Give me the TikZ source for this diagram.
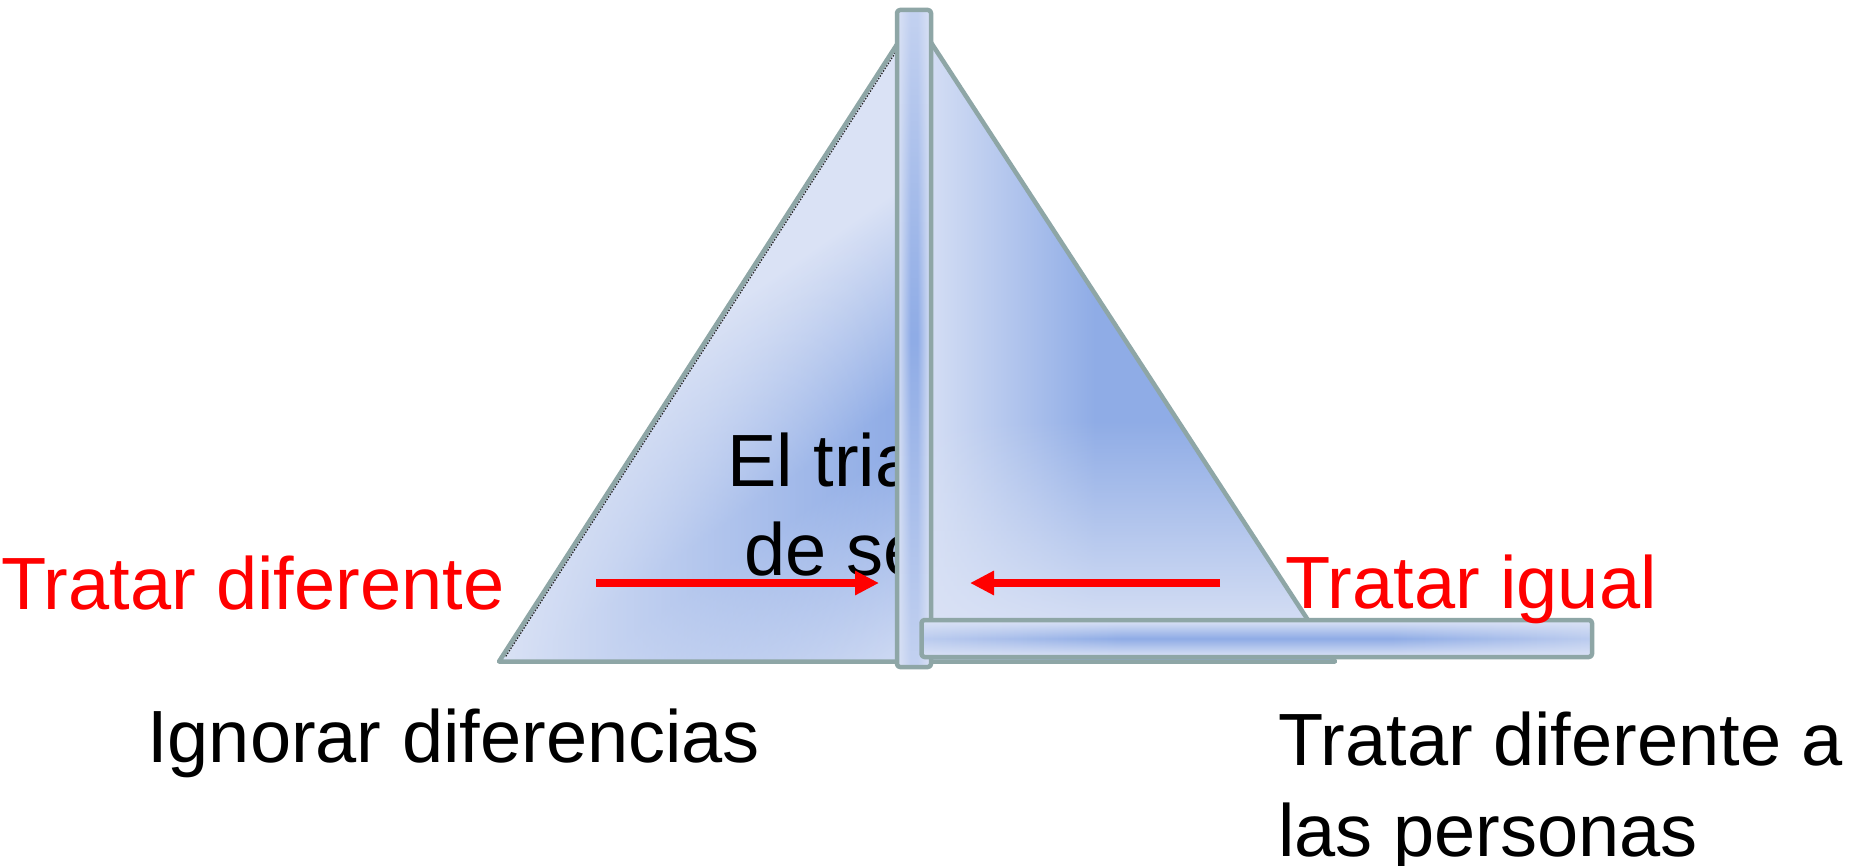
\documentclass[tikz,border=0pt]{standalone}
\usepackage{fontspec}
\setmainfont{Liberation Sans}
\usetikzlibrary{arrows.meta,fadings}
\definecolor{sailL}{RGB}{218,226,245}
\definecolor{sailD}{RGB}{143,172,230}
\definecolor{edgecol}{RGB}{142,166,166}
\definecolor{txtred}{RGB}{255,0,0}
\pgfdeclarehorizontalshading{leftsail}{100bp}{color(0bp)=(sailL); color(49bp)=(sailL); color(61.5bp)=(sailD); color(64bp)=(sailD); color(79bp)=(sailL); color(100bp)=(sailL)}
\pgfdeclarehorizontalshading{boomshade}{100bp}{color(0bp)=(sailL); color(15bp)=(sailL); color(40bp)=(sailD); color(60bp)=(sailD); color(85bp)=(sailL); color(100bp)=(sailL)}
\pgfdeclarehorizontalshading{poleshade}{100bp}{color(0bp)=(sailL); color(25bp)=(sailL); color(45bp)=(sailD); color(55bp)=(sailD); color(75bp)=(sailL); color(100bp)=(sailL)}
\tikzfading[name=fadedown, top color=transparent!100, bottom color=transparent!0]
\tikzfading[name=fadeleft, left color=transparent!0, right color=transparent!100]
\tikzfading[name=fadeends, top color=transparent!0, bottom color=transparent!0, middle color=transparent!100]
\tikzset{
  edgeline/.style={draw=edgecol, line width=4.5pt, line join=round},
  txt/.style={font=\fontsize{74}{89}\selectfont, inner sep=0pt, anchor=base west},
  redarrow/.style={draw=txtred, line width=8pt, -{Triangle[length=24pt,width=23pt]}},
}
\begin{document}
\begin{tikzpicture}[x=1pt,y=-1pt]
\useasboundingbox (0,0) rectangle (1854,866);
\fill[white] (0,0) rectangle (1854,866);
% left sail
\begin{scope}
  \clip (499,661.5) -- (914,18) -- (914,661.5) -- cycle;
  \shade[shading=leftsail, shading angle=-55] (356.5,-9.5) rectangle (1056.5,690.5);
  \fill[sailL, path fading=fadeleft] (499,0) rectangle (900,670);
\end{scope}
\draw[edgeline] (914,18) -- (499,661.5) -- (914,661.5);
\draw[black!85, line width=1.2pt, dash pattern=on 1.5pt off 1.5pt] (505.8,656.4) -- (896,51.7);
% right sail
\begin{scope}
  \clip (915,18) -- (1335,661.5) -- (915,661.5) -- cycle;
  \shade[left color=sailL, right color=sailD] (915,0) rectangle (1095,670);
  \fill[sailD] (1094,0) rectangle (1340,670);
  \fill[sailL, path fading=fadedown] (915,420) rectangle (1340,640);
\end{scope}
\draw[edgeline] (915,18) -- (1335,661.5) -- (915,661.5);
% centre text
\node[txt] (el) at (727,486) {El tria};
\node[txt] (de) at (744,575) {de se};
% arrows
\coordinate (a1s) at (596,583);
\coordinate (a1e) at (879,583);
\coordinate (a2s) at (1220,583);
\coordinate (a2e) at (970,583);
\draw[redarrow] (a1s) -- (a1e);
\draw[redarrow] (a2s) -- (a2e);
% pole
\shade[shading=poleshade] (897,10) rectangle (931,667);
\fill[sailL, path fading=fadeends, fill opacity=0.7] (897,10) rectangle (931,667);
\draw[edgeline, rounded corners=3pt] (897,10) rectangle (931,667);
% boom
\shade[shading=boomshade, rounded corners=3pt] (921.5,620) rectangle (1592,657);
\fill[sailL, path fading=fadeends] (921.5,621) rectangle (1592,656);
\draw[edgeline, rounded corners=3pt] (921.5,620) rectangle (1592,657);
% labels
\node[txt, text=txtred] (td) at (1,609) {Tratar diferente};
\node[txt, text=txtred] (ti) at (1285,608) {Tratar igual};
\node[txt] (ig) at (147,762) {Ignorar diferencias};
\node[txt] (tda) at (1278,765) {Tratar diferente a};
\node[txt] (lp) at (1278,856) {las personas};
\end{tikzpicture}
\end{document}
